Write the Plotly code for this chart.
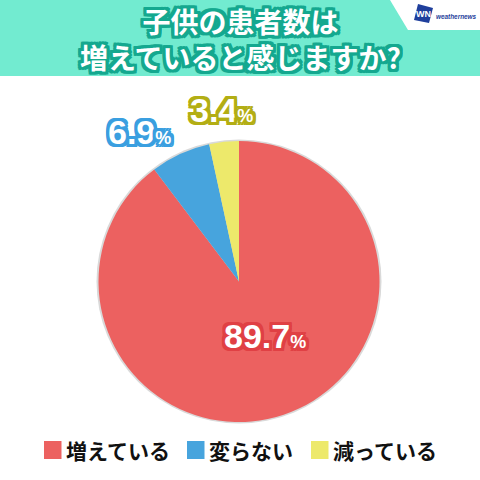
import plotly.graph_objects as go

categories = ["増えている", "変らない", "減っている"]
values = [89.7, 6.9, 3.4]
colors = ["#EC6160", "#47A4DD", "#EDE96B"]
outline = ["#E04044", "#3A9FE0", "#B3AE14"]
title_lines = ["子供の患者数は", "増えていると感じますか?"]
FONT = "Noto Sans CJK JP"
NUM_FONT = "Liberation Sans"
W = H = 480

def px(x): return x / W
def py(y): return 1 - y / H

def halo(c, r=3):
    pts = [(r,0),(-r,0),(0,r),(0,-r),(r,r),(-r,r),(r,-r),(-r,-r),
           (r,r//2),(-r,r//2),(r,-r//2),(-r,-r//2),(r//2,r),(-r//2,r),(r//2,-r),(-r//2,-r)]
    return ", ".join(f"{a}px {b}px 0 {c}" for a, b in pts) + f", 0 0 1px {c}"

fig = go.Figure(go.Pie(
    labels=categories, values=values, sort=False, direction="clockwise", rotation=0,
    marker=dict(colors=colors, line=dict(width=0)),
    textinfo="none", hoverinfo="label+percent", showlegend=False,
    domain=dict(x=[px(98), px(380)], y=[py(422), py(141)]),
))

shapes = [
    dict(type="rect", x0=0, x1=1, y0=py(76), y1=1, fillcolor="#72EBD0", line_width=0, layer="below"),
    dict(type="path", path=f"M {px(390)} 1 L {px(408)} {py(30)} L 1 {py(30)} L 1 1 Z",
         fillcolor="white", line_width=0, layer="below"),
    dict(type="path", path=f"M {px(418)} {py(4)} L {px(433)} {py(8)} L {px(429)} {py(23)} L {px(414)} {py(20)} Z",
         fillcolor="#1F3F9C", line_width=0),
    dict(type="circle", x0=px(96.5), x1=px(381.5), y0=py(423.5), y1=py(139.5),
         fillcolor="#D9D9D9", line_width=0, layer="below"),
]
swatch_x = [44, 187, 311]
text_x = [64, 207, 331]
for i, c in enumerate(categories):
    shapes.append(dict(type="rect", x0=px(swatch_x[i]), x1=px(swatch_x[i] + 17.5), y0=py(459), y1=py(441),
                       fillcolor=colors[i], line_width=0))

ann = []
def text(x, y, s, size, color, shadow=None, anchor="center", weight="bold", family=FONT, style="normal"):
    f = dict(family=family, size=size, color=color, weight=weight, style=style)
    if shadow:
        f["shadow"] = shadow
    ann.append(dict(x=px(x), y=py(y), xref="paper", yref="paper", text=s, showarrow=False,
                    xanchor=anchor, yanchor="middle", font=f))

text(240, 39, "<br>".join(title_lines), 28, "white", halo("#14A88F"))
text(423, 14, "WN", 9, "white", family=NUM_FONT)
text(433.5, 17, "weathernews", 6.4, "#1F3F9C", anchor="left", family=NUM_FONT, style="italic")

label_pos = [(265, 336), (139, 132), (221, 110)]
for i, v in enumerate(values):
    s = f'{v}<span style="font-size:18px"> %</span>'.replace(" %", "%")
    text(label_pos[i][0], label_pos[i][1], s, 34, "white", halo(outline[i]), family=NUM_FONT)
for i, c in enumerate(categories):
    text(text_x[i], 450, c, 21, "#111111", anchor="left", weight="bold")

fig.update_layout(width=W, height=H, margin=dict(l=0, r=0, t=0, b=0), autosize=False,
                  paper_bgcolor="white", plot_bgcolor="white", shapes=shapes, annotations=ann,
                  font=dict(family=FONT))
fig.write_html("out.html", config=dict(displayModeBar=False),
               post_script="document.body.style.margin='0';document.documentElement.style.overflow='hidden';")
